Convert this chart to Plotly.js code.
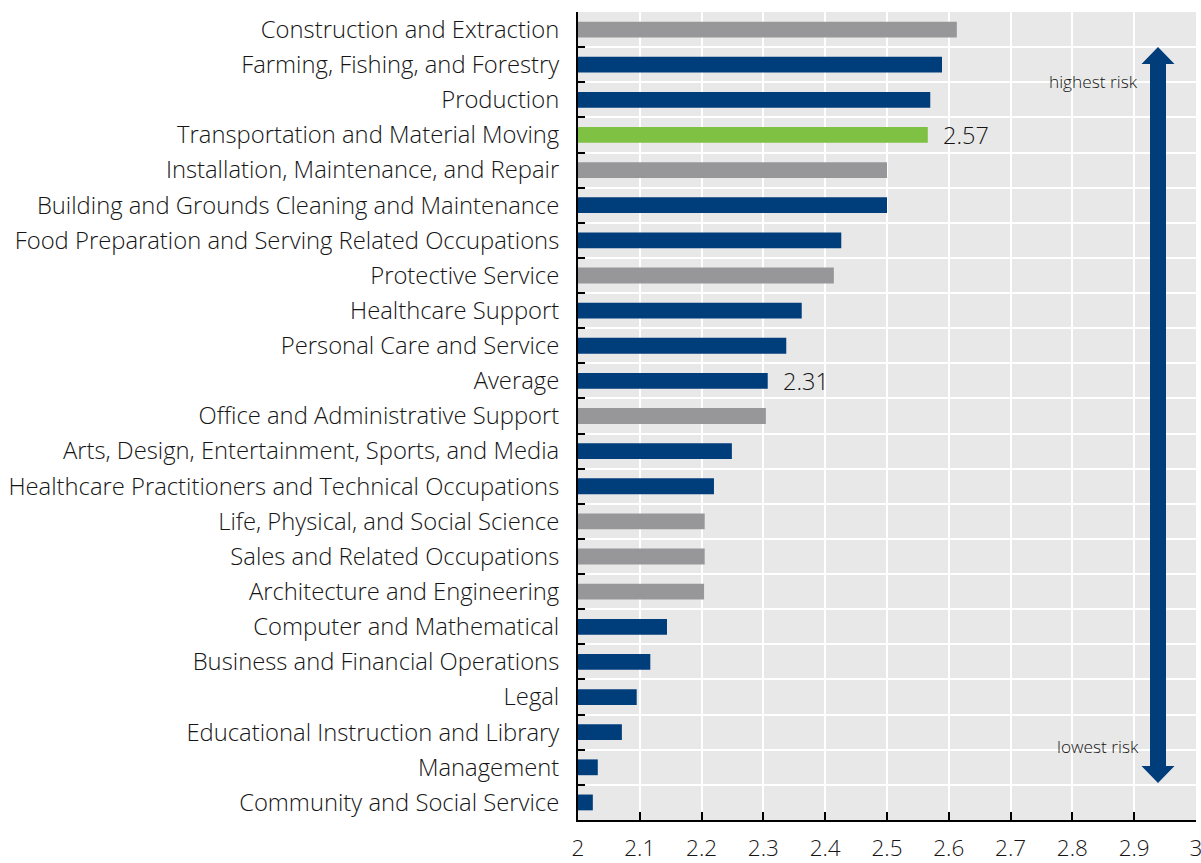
<!DOCTYPE html>
<html>
<head>
<meta charset="utf-8">
<script src="https://cdn.plot.ly/plotly-3.0.1.min.js"></script>
<style>html,body{margin:0;padding:0;background:#fff;}#chart{width:1201px;height:863px;}</style>
</head>
<body>
<div id="chart"></div>
<script>
// categories top-to-bottom as in the picture
const categories = [
  "Construction and Extraction",
  "Farming, Fishing, and Forestry",
  "Production",
  "Transportation and Material Moving",
  "Installation, Maintenance, and Repair",
  "Building and Grounds Cleaning and Maintenance",
  "Food Preparation and Serving Related Occupations",
  "Protective Service",
  "Healthcare Support",
  "Personal Care and Service",
  "Average",
  "Office and Administrative Support",
  "Arts, Design, Entertainment, Sports, and Media",
  "Healthcare Practitioners and Technical Occupations",
  "Life, Physical, and Social Science",
  "Sales and Related Occupations",
  "Architecture and Engineering",
  "Computer and Mathematical",
  "Business and Financial Operations",
  "Legal",
  "Educational Instruction and Library",
  "Management",
  "Community and Social Service"
];
const riskValues = [2.613, 2.589, 2.570, 2.566, 2.500, 2.500, 2.426, 2.414, 2.362, 2.337, 2.307, 2.304, 2.249, 2.220, 2.205, 2.205, 2.204, 2.144, 2.117, 2.095, 2.071, 2.032, 2.024];
const colorGroup = ["gray","navy","navy","green","gray","navy","navy","gray","navy","navy","navy","gray","navy","navy","gray","gray","gray","navy","navy","navy","navy","navy","navy"];
const labelledBars = {"Transportation and Material Moving": "2.57", "Average": "2.31"};
const xTickVals = [2, 2.1, 2.2, 2.3, 2.4, 2.5, 2.6, 2.7, 2.8, 2.9, 3];
const xTickText = ["2", "2.1", "2.2", "2.3", "2.4", "2.5", "2.6", "2.7", "2.8", "2.9", "3"];

const palette = {gray: "#97979a", navy: "#003d7b", green: "#7fc143"};
const FONT = "'Open Sans', sans-serif";
const TXT = "#151515";

const trace = {
  type: "bar",
  orientation: "h",
  y: categories,
  x: riskValues.map(v => v - 2),
  base: 2,
  marker: {color: colorGroup.map(c => palette[c])},
  hoverinfo: "skip"
};

const annotations = Object.keys(labelledBars).map(cat => ({
  x: riskValues[categories.indexOf(cat)], y: cat, xref: "x", yref: "y",
  text: labelledBars[cat], showarrow: false, xanchor: "left", yanchor: "middle", xshift: 13,
  font: {family: FONT, size: 23.5, weight: 300, color: TXT}
}));
annotations.push({x: (1093-578)/618, y: (820-82)/808, xref: "paper", yref: "paper", text: "highest risk",
  xanchor: "center", yanchor: "middle",
  showarrow: false, font: {family: FONT, size: 17.3, weight: 300, color: TXT}});
annotations.push({x: (1098-578)/618, y: (820-746)/808, xref: "paper", yref: "paper", text: "lowest risk",
  xanchor: "center", yanchor: "middle",
  showarrow: false, font: {family: FONT, size: 17.3, weight: 300, color: TXT}});

// double-headed arrow (decoration)
const ax = (1158-578)/618, hw = 8/618, hh = 16.5/618, headH = 17/808;
const yt = (820-47)/808, yb = (820-783)/808;
const arrowPath = `M ${ax-hw} ${yb+headH} L ${ax-hw} ${yt-headH} L ${ax-hh} ${yt-headH} L ${ax} ${yt} L ${ax+hh} ${yt-headH} L ${ax+hw} ${yt-headH} L ${ax+hw} ${yb+headH} L ${ax+hh} ${yb+headH} L ${ax} ${yb} L ${ax-hh} ${yb+headH} Z`;

const layout = {
  width: 1201, height: 863,
  margin: {l: 578, r: 5, t: 12, b: 43},
  paper_bgcolor: "#fff",
  plot_bgcolor: "#e8e8e8",
  showlegend: false,
  bargap: 0.55,
  font: {family: FONT, size: 20, color: TXT},
  xaxis: {
    range: [2, 3], tickmode: "array", tickvals: xTickVals, ticktext: xTickText,
    showgrid: true, gridcolor: "#ffffff", gridwidth: 2,
    zeroline: false, showline: true, linecolor: "#000", linewidth: 2,
    ticks: "inside", ticklen: 8, tickcolor: "#000", tickwidth: 2,
    ticklabelstandoff: 7, ticklabeloverflow: "allow",
    tickfont: {family: FONT, size: 22.5, weight: 300, color: TXT}, fixedrange: true
  },
  yaxis: {
    type: "category", autorange: "reversed", tickson: "boundaries",
    showgrid: true, gridcolor: "#ffffff", gridwidth: 2,
    showline: true, linecolor: "#000", linewidth: 2,
    ticks: "inside", ticklen: 7, tickcolor: "#000", tickwidth: 2,
    ticklabelstandoff: 12,
    tickfont: {family: FONT, size: 23.8, weight: 300, color: TXT}, fixedrange: true
  },
  annotations: annotations,
  shapes: [{type: "path", xref: "paper", yref: "paper", path: arrowPath,
    fillcolor: "#003d7b", line: {width: 0}, layer: "above"}]
};

Plotly.newPlot("chart", [trace], layout, {displayModeBar: false, staticPlot: true});
</script>
</body>
</html>
